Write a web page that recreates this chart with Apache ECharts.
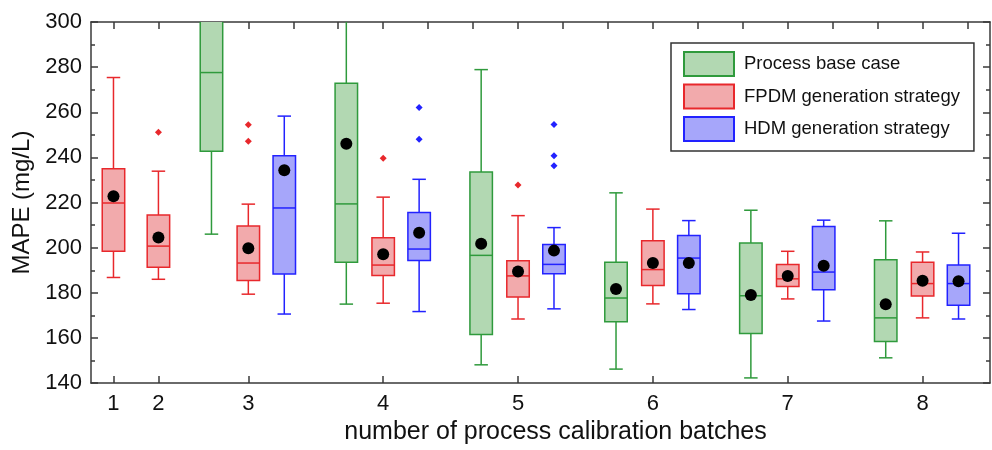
<!DOCTYPE html>
<html>
<head>
<meta charset="utf-8">
<script src="https://cdn.jsdelivr.net/npm/echarts@6/dist/echarts.min.js"></script>
<style>
  html, body { margin: 0; padding: 0; background: #fff; }
  #container { width: 992px; height: 450px; }
</style>
</head>
<body>
<div id="container"></div>
<script>
// x axis tick labels and where each batch sits on the slot axis
var tickLabels = ['1', '2', '3', '4', '5', '6', '7', '8'];
var batchSlots = [0, 1, 3, 6, 9, 12, 15, 18];
var seriesNames = ['Process base case', 'FPDM generation strategy', 'HDM generation strategy'];

// box values per batch: [min, Q1, median, Q3, max], null = no box
var baseBox = [null, null,
	[206, 242.7, 277.6, 312, 340],
	[175, 193.5, 219.4, 272.9, 318],
	[148.1, 161.5, 196.6, 233.5, 278.9],
	[146.2, 167.2, 177.7, 193.6, 224.3],
	[142.3, 162, 178.7, 202.1, 216.6],
	[151.2, 158.4, 168.9, 194.6, 211.9]];
var baseMean = [null, null, 305, 246.1, 201.7, 181.7, 179, 174.9];
var baseOutliers = [[], [], [], [], [], [], [], []];

var fpdmBox = [
	[186.8, 198.4, 219.8, 235, 275.4],
	[186, 191.3, 200.7, 214.5, 233.9],
	[179.4, 185.5, 193.2, 209.6, 219.3],
	[175.4, 187.7, 192.3, 204.4, 222.4],
	[168.4, 178.1, 187.5, 194.2, 214.2],
	[175.1, 183.2, 190.3, 203.1, 217.1],
	[177.3, 182.8, 186.2, 192.6, 198.4],
	[168.9, 178.6, 184.1, 193.6, 198.1]];
var fpdmMean = [222.8, 204.5, 199.7, 197.1, 189.4, 193.2, 187.5, 185.4];
var fpdmOutliers = [[], [251.2], [254.5, 247.2], [239.6], [227.8], [], [], []];

var hdmBox = [null, null,
	[170.6, 188.3, 217.6, 240.7, 258.3],
	[171.7, 194.3, 199.4, 215.6, 230.3],
	[172.9, 188.5, 192.6, 201.4, 208.9],
	[172.6, 179.6, 195.4, 205.4, 212],
	[167.5, 181.4, 189.2, 209.4, 212.2],
	[168.4, 174.5, 184.1, 192.3, 206.4]];
var hdmMean = [null, null, 234.3, 206.6, 198.7, 193.2, 192, 185.1];
var hdmOutliers = [[], [], [], [262.1, 248.1], [254.6, 240.7, 236.3], [], [], []];

var strokeColors = ['#2f9a3c', '#e8282c', '#2222ff'];
var fillColors = ['#b2d8b2', '#f2aaac', '#a6a6fa'];
var slotOffsets = [-0.82, 0, 0.8];
var boxW = 0.5;
var capW = 0.3;
var fontName = 'Liberation Sans, Arial, sans-serif';

var dom = document.getElementById('container');
var myChart = echarts.init(dom, null, { renderer: 'canvas' });

function boxData(boxes, k) {
	var arr = [];
	for (var i = 0; i < boxes.length; i++) {
		if (boxes[i] == null) continue;
		arr.push([batchSlots[i] + slotOffsets[k]].concat(boxes[i]));
	}
	return arr;
}

function meanData(means, k) {
	var arr = [];
	for (var i = 0; i < means.length; i++) {
		if (means[i] == null) continue;
		arr.push([batchSlots[i] + slotOffsets[k], means[i]]);
	}
	return arr;
}

function outlierData(outs, k) {
	var arr = [];
	for (var i = 0; i < outs.length; i++) {
		for (var j = 0; j < outs[i].length; j++) {
			arr.push([batchSlots[i] + slotOffsets[k], outs[i][j]]);
		}
	}
	return arr;
}

function makeRender(k) {
	return function (params, api) {
		var x = api.value(0);
		var pMin = api.coord([x, api.value(1)]);
		var pQ1 = api.coord([x, api.value(2)]);
		var pMed = api.coord([x, api.value(3)]);
		var pQ3 = api.coord([x, api.value(4)]);
		var pMax = api.coord([x, api.value(5)]);
		var cx = pMed[0];
		var half = api.size([boxW, 0])[0] / 2;
		var capHalf = api.size([capW, 0])[0] / 2;
		var ls = { stroke: strokeColors[k], lineWidth: 1.5, fill: null };
		return {
			type: 'group',
			children: [
				{ type: 'line', shape: { x1: cx, y1: pMax[1], x2: cx, y2: pQ3[1] }, style: ls },
				{ type: 'line', shape: { x1: cx, y1: pMin[1], x2: cx, y2: pQ1[1] }, style: ls },
				{ type: 'line', shape: { x1: cx - capHalf, y1: pMax[1], x2: cx + capHalf, y2: pMax[1] }, style: ls },
				{ type: 'line', shape: { x1: cx - capHalf, y1: pMin[1], x2: cx + capHalf, y2: pMin[1] }, style: ls },
				{ type: 'rect', shape: { x: cx - half, y: pQ3[1], width: half * 2, height: pQ1[1] - pQ3[1] },
					style: { fill: fillColors[k], stroke: strokeColors[k], lineWidth: 1.5 } },
				{ type: 'line', shape: { x1: cx - half, y1: pMed[1], x2: cx + half, y2: pMed[1] }, style: ls }
			]
		};
	};
}

var boxes = [baseBox, fpdmBox, hdmBox];
var means = [baseMean, fpdmMean, hdmMean];
var outs = [baseOutliers, fpdmOutliers, hdmOutliers];

var series = [];
for (var k = 0; k < 3; k++) {
	series.push({
		name: seriesNames[k],
		type: 'custom',
		clip: true,
		renderItem: makeRender(k),
		encode: { x: 0, y: [1, 2, 3, 4, 5] },
		itemStyle: { color: fillColors[k], borderColor: strokeColors[k] },
		data: boxData(boxes[k], k),
		z: 2
	});
}
for (var k = 0; k < 3; k++) {
	series.push({
		type: 'scatter',
		symbol: 'diamond',
		symbolSize: 7,
		itemStyle: { color: strokeColors[k], opacity: 1 },
		data: outlierData(outs[k], k),
		clip: true,
		z: 3
	});
}
for (var k = 0; k < 3; k++) {
	series.push({
		type: 'scatter',
		symbol: 'circle',
		symbolSize: 12,
		itemStyle: { color: '#000', opacity: 1 },
		data: meanData(means[k], k),
		clip: true,
		z: 4
	});
}

var axisLineStyle = { color: '#3a3a3a', width: 1.5 };
var allSlots = [];
for (var s = 0; s < 20; s++) allSlots.push(s);

option = {
	animation: false,
	textStyle: { fontFamily: fontName },
	grid: { left: 91, right: 2, top: 22, bottom: 52, containLabel: false },
	legend: {
		orient: 'vertical',
		left: 671,
		top: 43,
		padding: [8, 14, 9, 12],
		itemWidth: 50,
		itemHeight: 24,
		itemGap: 6.5,
		borderColor: '#333',
		borderWidth: 1.5,
		icon: 'rect',
		textStyle: { fontSize: 18.5, color: '#111', fontFamily: fontName, padding: [0, 0, 0, 5] },
		data: seriesNames.map(function (n, i) {
			return { name: n, itemStyle: { color: fillColors[i], borderColor: strokeColors[i], borderWidth: 2 } };
		})
	},
	xAxis: [
		{
			type: 'value',
			position: 'bottom',
			min: -0.5,
			max: 19.5,
			name: 'number of process calibration batches',
			nameLocation: 'middle',
			nameGap: 26,
			nameTextStyle: { fontSize: 25, color: '#111', fontFamily: fontName, padding: [0, 0, 0, 30] },
			axisLine: { show: true, onZero: false, lineStyle: axisLineStyle },
			axisTick: { show: true, inside: true, length: 7, customValues: batchSlots, lineStyle: axisLineStyle },
			axisLabel: {
				customValues: batchSlots,
				fontSize: 22,
				color: '#111',
				margin: 10,
				formatter: function (v) {
					var i = batchSlots.indexOf(Math.round(v));
					return i >= 0 ? tickLabels[i] : '';
				}
			},
			splitLine: { show: false }
		},
		{
			type: 'value',
			position: 'top',
			min: -0.5,
			max: 19.5,
			axisLine: { show: true, onZero: false, lineStyle: axisLineStyle },
			axisTick: { show: true, inside: true, length: 7, customValues: allSlots, lineStyle: axisLineStyle },
			axisLabel: { show: false },
			splitLine: { show: false }
		}
	],
	yAxis: [
		{
			type: 'value',
			position: 'left',
			min: 140,
			max: 300,
			interval: 20,
			name: 'MAPE (mg/L)',
			nameLocation: 'middle',
			nameGap: 52,
			nameTextStyle: { fontSize: 24, color: '#111', fontFamily: fontName },
			axisLine: { show: true, onZero: false, lineStyle: axisLineStyle },
			axisTick: { show: true, inside: true, length: 7, lineStyle: axisLineStyle },
			minorTick: { show: true, splitNumber: 2, length: 4, lineStyle: axisLineStyle },
			axisLabel: { fontSize: 22, color: '#111', margin: 9 },
			splitLine: { show: false }
		},
		{
			type: 'value',
			position: 'right',
			min: 140,
			max: 300,
			interval: 20,
			axisLine: { show: true, onZero: false, lineStyle: axisLineStyle },
			axisTick: { show: true, inside: true, length: 7, lineStyle: axisLineStyle },
			minorTick: { show: true, splitNumber: 2, length: 4, lineStyle: axisLineStyle },
			axisLabel: { show: false },
			splitLine: { show: false }
		}
	],
	series: series
};

if (option && typeof option === "object") {
	myChart.setOption(option, true);
}
</script>
</body>
</html>
